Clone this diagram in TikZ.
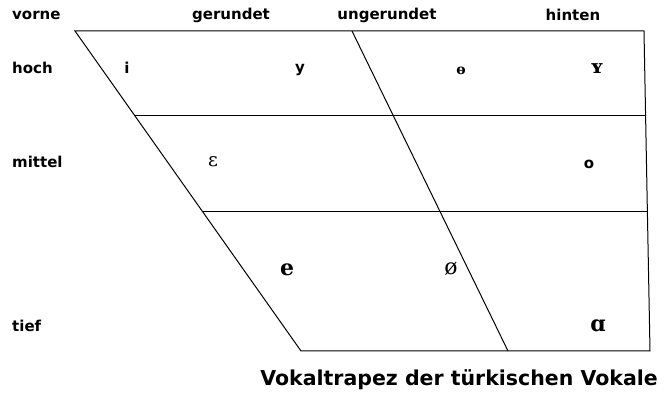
\documentclass[tikz,border=0pt]{standalone}
\usepackage{fontspec}
\setmainfont{DejaVu Sans}
\newfontfamily\ipaserif{DejaVu Serif}
\begin{document}
\begin{tikzpicture}[x=1pt,y=-1pt,
  lbl/.style={font=\fontsize{15}{17}\selectfont\bfseries, inner sep=0pt},
  lblL/.style={lbl, anchor=west},
  vsans/.style={font=\fontsize{15}{17}\selectfont\bfseries, inner sep=0pt},
  vserifb/.style={font=\ipaserif\fontsize{22}{24}\selectfont\bfseries, inner sep=0pt},
  vserif/.style={font=\ipaserif\fontsize{19}{21}\selectfont, inner sep=0pt},
  edge/.style={line width=1pt, black}]
\useasboundingbox (0,0) rectangle (665,395);
% frame corners
\coordinate (TL) at (75,31);
\coordinate (TM) at (352,31);
\coordinate (TR) at (644,31);
\coordinate (BL) at (301,351);
\coordinate (BM) at (508,351);
\coordinate (BR) at (650,351);
\path (TL) -- (BL) coordinate[pos=0.2656] (L1) coordinate[pos=0.5656] (L2);
\path (TR) -- (BR) coordinate[pos=0.2656] (R1) coordinate[pos=0.5656] (R2);
\draw[edge] (TL) -- (TR) -- (BR) -- (BL) -- cycle;
\draw[edge] (TM) -- (BM);
\draw[edge] (L1) -- (R1);
\draw[edge] (L2) -- (R2);
% labels
\node[lblL] (vorne) at (12,15) {vorne};
\node[lbl] (gerundet) at (231,15) {gerundet};
\node[lbl] (ungerundet) at (387,15) {ungerundet};
\node[lbl] (hinten) at (573,15) {hinten};
\node[lblL] (hoch) at (12,68) {hoch};
\node[lblL] (mittel) at (12,162) {mittel};
\node[lblL] (tief) at (12,326) {tief};
% vowels
\node[vsans] (vi) at (127,68) {i};
\node[vsans] (vy) at (300,70) {y};
\node[font=\ipaserif\fontsize{14}{16}\selectfont\bfseries, inner sep=0pt] (vbarred) at (461,71) {ɵ};
\node[font=\ipaserif\fontsize{19}{21}\selectfont\bfseries, inner sep=0pt] (vY) at (597,69) {ʏ};
\node[vserif] (veps) at (213,162) {ɛ};
\node[vsans] (vo) at (589,164) {o};
\node[vserifb] (ve) at (287,270) {e};
\node[font=\ipaserif\fontsize{22}{24}\selectfont, inner sep=0pt] (voe) at (451,269) {ø};
\node[vserifb] (va) at (598,326) {ɑ};
% caption
\node[font=\fontsize{20.5}{23}\selectfont\bfseries, inner sep=0pt, anchor=east] (caption) at (658,380) {Vokaltrapez der türkischen Vokale};
\end{tikzpicture}
\end{document}
